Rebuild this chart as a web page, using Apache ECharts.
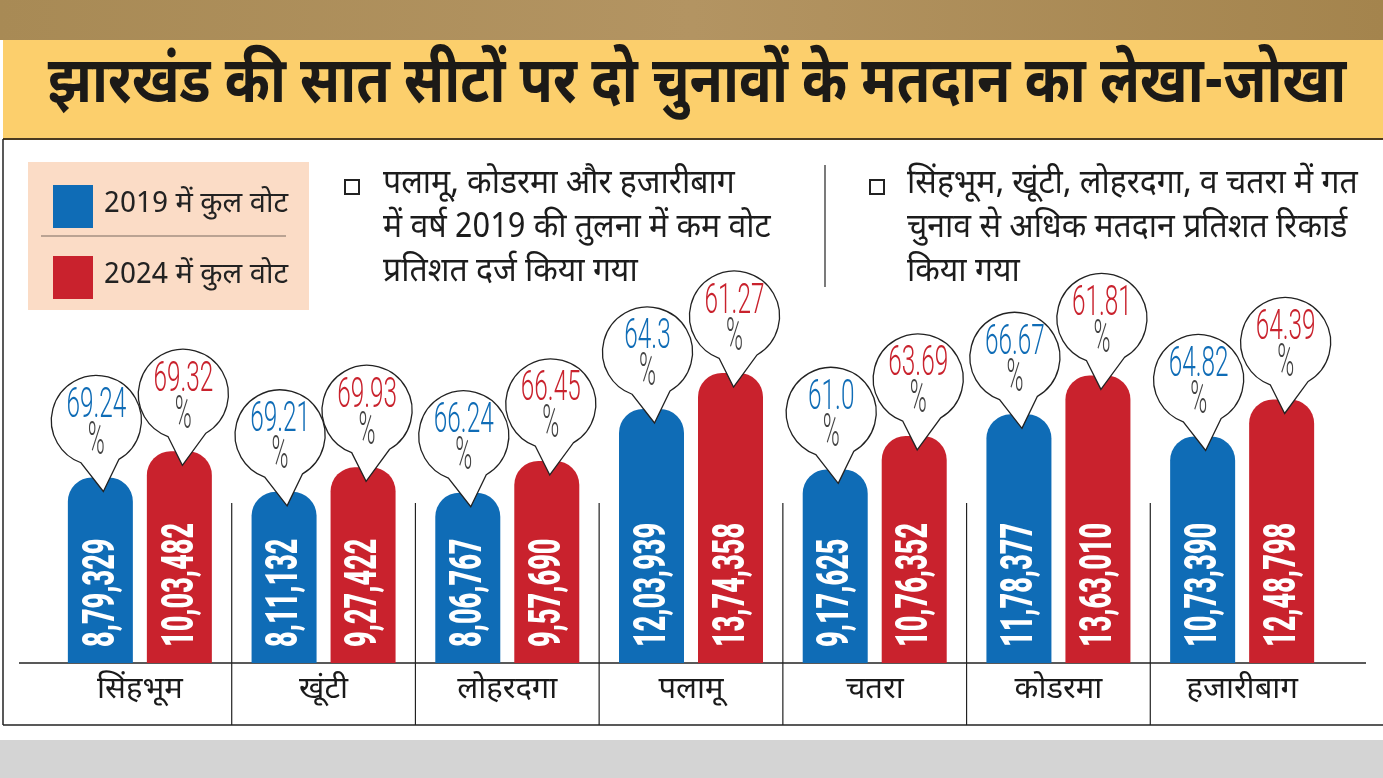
<!DOCTYPE html>
<html>
<head>
<meta charset="utf-8">
<script src="https://cdn.jsdelivr.net/npm/echarts@6/dist/echarts.min.js"></script>
<style>
  html, body { margin: 0; padding: 0; background: #fff; }
  #chart { width: 1383px; height: 778px; }
</style>
</head>
<body>
<div id="chart"></div>
<script>
// seats and both elections
var seats = ['सिंहभूम', 'खूंटी', 'लोहरदगा', 'पलामू', 'चतरा', 'कोडरमा', 'हजारीबाग']
var votes2019 = [879329, 811132, 806767, 1203939, 917625, 1178377, 1073390]
var votes2024 = [1003482, 927422, 957690, 1374358, 1076352, 1363010, 1248798]
var turnout2019 = ['69.24', '69.21', '66.24', '64.3', '61.0', '66.67', '64.82']
var turnout2024 = ['69.32', '69.93', '66.45', '61.27', '63.69', '61.81', '64.39']
var legendNames = ['2019 में कुल वोट', '2024 में कुल वोट']

var BLUE = '#0f6cb6', RED = '#c9222d'
var HINDI = '"Noto Sans Devanagari", "Noto Sans", sans-serif'
var W = 1383, H = 778, gridBottom = 115, axisY = H - gridBottom
var barW = 65, barGap = 14, half = (barW + barGap) / 2

// indian grouping 12,03,939
function inr(n) {
  var s = String(n), last3 = s.slice(-3), rest = s.slice(0, -3)
  if (rest) last3 = ',' + last3
  return rest.replace(/\B(?=(\d{2})+(?!\d))/g, ',') + last3
}

// speech bubble with turnout above each bar
function bubble(color, shift, pcts) {
  return function (params, api) {
    var top = api.coord([api.value(0), api.value(1)])
    var bx = top[0] + shift, by = top[1]
    var r = 45, cx = bx + (shift < 0 ? -4 : 4), cy = by - 57
    var a1 = 60 * Math.PI / 180, a2 = 110 * Math.PI / 180
    var ax = cx + r * Math.cos(a1), ay = cy + r * Math.sin(a1)
    var qx = cx + r * Math.cos(a2), qy = cy + r * Math.sin(a2)
    var tx = bx + 3, ty = by + 14
    var d = 'M' + tx + ' ' + ty + ' L' + ax + ' ' + ay +
      ' A' + r + ' ' + r + ' 0 1 0 ' + qx + ' ' + qy + ' Z'
    return {
      type: 'group',
      children: [{
        type: 'path',
        shape: { pathData: d },
        style: { fill: '#fff', stroke: '#222', lineWidth: 1.3 }
      }, {
        type: 'text', x: cx, y: cy - 14, scaleX: 0.58,
        style: {
          text: pcts[params.dataIndex], x: 0, y: 0, fill: color,
          fontSize: 42, fontFamily: 'Roboto', fontWeight: 300, align: 'center', verticalAlign: 'middle'
        }
      }, {
        type: 'text', x: cx, y: cy + 22, scaleX: 0.5,
        style: {
          text: '%', x: 0, y: 0, fill: '#444',
          fontSize: 46, fontFamily: 'Roboto', fontWeight: 300, align: 'center', verticalAlign: 'middle'
        }
      }]
    }
  }
}

// vertical vote counts inside bars, squeezed like a condensed face
function barText(shift) {
  return function (params, api) {
    var base = api.coord([api.value(0), 0])
    return {
      type: 'text', x: base[0] + shift, y: base[1] - 16, rotation: Math.PI / 2, scaleX: 0.6,
      style: {
        text: inr(api.value(1)), x: 0, y: 2, fill: '#fff',
        fontSize: 45, fontWeight: 900, fontFamily: 'Roboto', align: 'left', verticalAlign: 'middle'
      }
    }
  }
}

function pairs(arr) { return arr.map(function (v, i) { return [i, v] }) }

var chart = echarts.init(document.getElementById('chart'))

var option = {
  animation: false,
  backgroundColor: '#fff',
  grid: { left: 48, right: 49, top: axisY - 422, bottom: gridBottom },
  xAxis: {
    type: 'category',
    data: seats,
    axisLine: { show: false },
    axisTick: { show: false },
    axisLabel: { color: '#1a1a1a', fontSize: 31, fontFamily: HINDI, margin: 14 }
  },
  yAxis: { type: 'value', min: 0, max: 2000000, show: false },
  legend: {
    orient: 'vertical',
    left: 48, top: 180,
    itemWidth: 40, itemHeight: 43, itemGap: 28,
    icon: 'rect',
    textStyle: { color: '#222', fontSize: 29, fontFamily: HINDI, padding: [0, 0, 0, 6] },
    selectedMode: false,
    data: legendNames
  },
  graphic: [
    { type: 'rect', z: -10, shape: { x: 0, y: 0, width: W, height: 40 },
      style: { fill: new echarts.graphic.LinearGradient(0, 0, 1, 0, [
        { offset: 0, color: '#a88a55' }, { offset: 0.5, color: '#b39462' }, { offset: 1, color: '#a4844d' }]) } },
    { type: 'rect', z: -10, shape: { x: 3, y: 40, width: W - 3, height: 99 }, style: { fill: '#fccf6c' } },
    { type: 'line', z: -9, shape: { x1: 3, y1: 139, x2: W, y2: 139 }, style: { stroke: '#4a3a20', lineWidth: 2 } },
    { type: 'line', z: -9, shape: { x1: 3, y1: 139, x2: 3, y2: 725 }, style: { stroke: '#222', lineWidth: 1.5 } },
    { type: 'line', z: -9, shape: { x1: 3, y1: 725, x2: W, y2: 725 }, style: { stroke: '#222', lineWidth: 1.5 } },
    { type: 'rect', z: -10, shape: { x: 0, y: 740, width: W, height: 38 }, style: { fill: '#d4d4d4' } },
    { type: 'line', z: 1, shape: { x1: 19, y1: axisY, x2: 1366, y2: axisY }, style: { stroke: '#222', lineWidth: 1.5 } },
    { type: 'text', x: 697, y: 90, scaleX: 0.85,
      style: { text: 'झारखंड की सात सीटों पर दो चुनावों के मतदान का लेखा-जोखा', x: 0, y: 0,
        fill: '#1c1a17', fontSize: 64, fontWeight: 'bold', fontFamily: HINDI, align: 'center', verticalAlign: 'middle' } },
    // legend card
    { type: 'rect', z: -5, shape: { x: 28, y: 162, width: 281, height: 148 }, style: { fill: '#fbdcc6' } },
    { type: 'line', z: -4, shape: { x1: 41, y1: 236, x2: 286, y2: 236 }, style: { stroke: '#7a6a60', lineWidth: 1.2 } },
    // notes
    { type: 'rect', shape: { x: 345, y: 180, width: 14, height: 14 }, style: { fill: 'none', stroke: '#222', lineWidth: 2 } },
    { type: 'text', x: 383, y: 165, scaleX: 0.94,
      style: { text: 'पलामू, कोडरमा और हजारीबाग\nमें वर्ष 2019 की तुलना में कम वोट\nप्रतिशत दर्ज किया गया',
        x: 0, y: 0, fill: '#1c1c1c', fontSize: 34, lineHeight: 44, fontFamily: HINDI } },
    { type: 'line', shape: { x1: 825, y1: 165, x2: 825, y2: 287 }, style: { stroke: '#222', lineWidth: 1.2 } },
    { type: 'rect', shape: { x: 870, y: 180, width: 14, height: 14 }, style: { fill: 'none', stroke: '#222', lineWidth: 2 } },
    { type: 'text', x: 907, y: 165, scaleX: 0.94,
      style: { text: 'सिंहभूम, खूंटी, लोहरदगा, व चतरा में गत\nचुनाव से अधिक मतदान प्रतिशत रिकार्ड\nकिया गया',
        x: 0, y: 0, fill: '#1c1c1c', fontSize: 34, lineHeight: 44, fontFamily: HINDI } }
  ],
  series: [{
    name: legendNames[0],
    type: 'bar',
    data: votes2019,
    barWidth: barW,
    barGap: (barGap / barW * 100) + '%',
    itemStyle: { color: BLUE, borderRadius: [24, 24, 0, 0] }
  }, {
    name: legendNames[1],
    type: 'bar',
    data: votes2024,
    barWidth: barW,
    itemStyle: { color: RED, borderRadius: [24, 24, 0, 0] }
  }, {
    type: 'custom', z: 3, renderItem: barText(-half), data: pairs(votes2019)
  }, {
    type: 'custom', z: 3, renderItem: barText(half), data: pairs(votes2024)
  }, {
    type: 'custom', z: 5, renderItem: bubble(BLUE, -half, turnout2019), data: pairs(votes2019)
  }, {
    type: 'custom', z: 6, renderItem: bubble(RED, half, turnout2024), data: pairs(votes2024)
  }, {
    // seat separators
    type: 'custom',
    z: 1,
    renderItem: function (params, api) {
      var c = api.coord([api.value(0), 0])
      var x = c[0] - api.size([1, 0])[0] / 2
      return { type: 'line', shape: { x1: x, y1: c[1] - 160, x2: x, y2: c[1] + 62 },
        style: { stroke: '#222', lineWidth: 1.2 } }
    },
    data: seats.slice(1).map(function (s, i) { return [i + 1] })
  }]
}
chart.setOption(option)
</script>
</body>
</html>
